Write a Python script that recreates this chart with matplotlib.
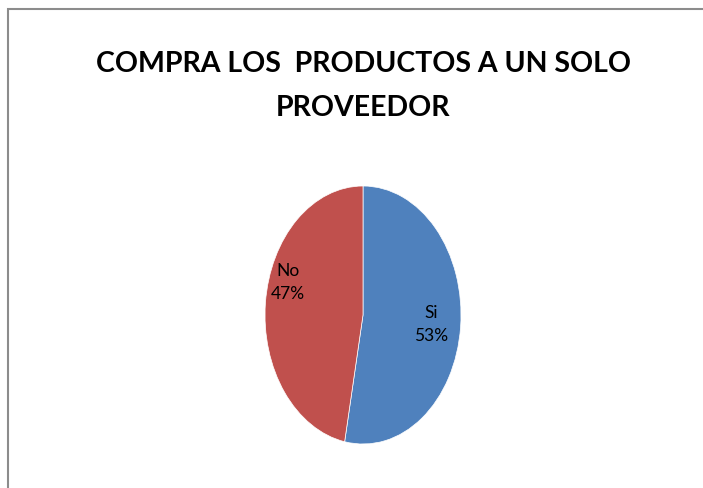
import matplotlib.pyplot as plt
from matplotlib.patches import Rectangle

# data
labels = ['Si', 'No']
values = [53, 47]
colors = ['#4F81BD', '#C0504D']
title = 'COMPRA LOS  PRODUCTOS A UN SOLO\nPROVEEDOR'

W, H = 703, 489
fig = plt.figure(figsize=(W / 100, H / 100), dpi=100)

# chart border (only top and left show in the crop)
fig.patches.append(Rectangle((8 / W, -0.1), 1.2, 1 - 10 / H + 0.1, transform=fig.transFigure,
                             fill=False, edgecolor='#8c8c8c', linewidth=1.5))

fig.text(0.517, 1 - 86 / H, title, ha='center', va='center', fontsize=20.5, fontweight='bold',
         family='Lato', linespacing=1.85)

# pie is squeezed horizontally, so use an axes sized to the ellipse
ax = fig.add_axes([265 / W, (H - 445) / H, 196 / W, 258 / H])
tot = sum(values)
pie_labels = ['%s\n%d%%' % (l, round(v * 100 / tot)) for l, v in zip(labels, values)]
wedges, texts = ax.pie(values, labels=pie_labels, colors=colors, startangle=90, counterclock=False,
                       labeldistance=0.7, wedgeprops=dict(edgecolor='white', linewidth=0.5),
                       textprops=dict(fontsize=12.5, family='Lato', ha='center', va='center',
                                      linespacing=1.5))
texts[1].set_position((-0.77, 0.26))
ax.set_aspect('auto')
ax.set_xlim(-1, 1)
ax.set_ylim(-1, 1)

plt.savefig('out.png', dpi=100)
